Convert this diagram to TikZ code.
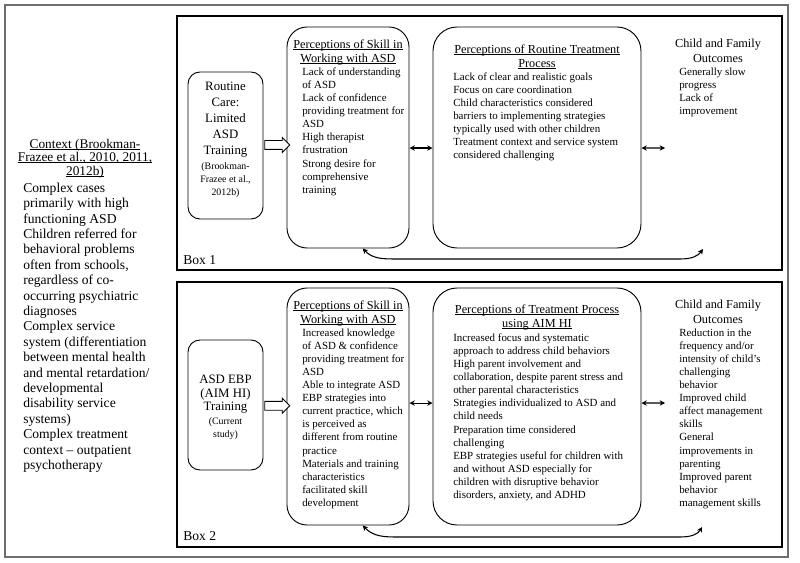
\documentclass[tikz,border=0pt]{standalone}
\usepackage{fontspec}
\setmainfont{Liberation Serif}
\usetikzlibrary{arrows.meta,shapes.arrows,calc}

\newcommand{\tightlines}{\lineskiplimit -20pt\relax}
\newcommand{\ulin}[1]{\setbox0\hbox{#1}\rlap{\rule[-1.1pt]{\wd0}{0.45pt}}\box0}

\tikzset{
  rbox/.style={draw, line width=0.7pt, rounded corners=15pt},
  sbox/.style={draw, line width=0.7pt, rounded corners=9pt},
  headtext/.style={font=\fontsize{9.2}{10.7}\selectfont, align=center, inner sep=0pt, anchor=north},
  bodytext/.style={font=\fontsize{8.2}{9.8}\selectfont, align=left, inner sep=0pt, anchor=north west},
  bigtext/.style={font=\fontsize{9.6}{12}\selectfont, align=center, inner sep=0pt, anchor=north},
  reftext/.style={font=\fontsize{7.4}{9.8}\selectfont, align=center, inner sep=0pt, anchor=north},
  ctxtext/.style={font=\fontsize{10.2}{11.55}\selectfont, align=left, inner sep=0pt},
  biarrow/.style={{Stealth[length=4pt,width=4pt]}-{Stealth[length=4pt,width=4pt]}, line width=0.8pt},
  fatarrow/.style={single arrow, draw, line width=0.7pt, fill=white, minimum height=18.75pt,
    minimum width=10.5pt, inner sep=3pt, single arrow head extend=2.25pt,
    path picture={\fill (path picture bounding box.south west) rectangle ([xshift=3.6pt]path picture bounding box.north west);}}
}

\begin{document}
\begin{tikzpicture}[x=0.75pt,y=0.75pt,yscale=-1,xscale=1]
\useasboundingbox (0,0) rectangle (800,563);

% frames
\draw [color={rgb, 255:red, 110; green, 110; blue, 110 }, line width=0.8pt] (5,5) rectangle (788,557) ;
\draw [line width=0.8pt] (177,16) rectangle (782,270) ;
\draw [line width=2.2pt] (177,282) rectangle (782,547) ;

% Context
\node [ctxtext, anchor=north, align=center, font=\fontsize{10}{10.1}\selectfont\tightlines] (ctxHead) at (85,138.6)
  {\ulin{Context (Brookman-}\\ \ulin{Frazee et al., 2010, 2011,}\\ \ulin{2012b)}};
\node [ctxtext, anchor=north west] (ctxBody) at (23,182.6)
  {Complex cases\\primarily with high\\functioning ASD\\Children referred for\\behavioral problems\\often from schools,\\regardless of co-\\occurring psychiatric\\diagnoses\\Complex service\\system (differentiation\\between mental health\\and mental retardation/\\developmental\\disability service\\systems)\\Complex treatment\\context -- outpatient\\psychotherapy};

% Box 1
\node [sbox, minimum width=56.25pt, minimum height=110.25pt] (careA) at (225.5,145.5) {};
\node [rbox, minimum width=91.5pt, minimum height=165.75pt] (skillA) at (348,137.5) {};
\node [rbox, rounded corners=18pt, minimum width=156pt, minimum height=165.75pt] (procA) at (537,137.5) {};

\node [bigtext] (careAtitle) at (225.5,81.9) {Routine\\Care:\\Limited\\ASD\\Training};
\node [reftext] (careAref) at (225.5,162) {(Brookman-\\Frazee et al.,\\2012b)};

\node [headtext] (skillAhead) at (348,39.1) {\ulin{Perceptions of Skill in}\\ \ulin{Working with ASD}};
\node [bodytext] (skillAbody) at (302,67.6) {Lack of understanding\\of ASD\\Lack of confidence\\providing treatment for\\ASD\\High therapist\\frustration\\Strong desire for\\comprehensive\\training};

\node [headtext] (procAhead) at (537,44.1) {\ulin{Perceptions of Routine Treatment}\\ \ulin{Process}};
\node [bodytext] (procAbody) at (453,72.6) {Lack of clear and realistic goals\\Focus on care coordination\\Child characteristics considered\\barriers to implementing strategies\\typically used with other children\\Treatment context and service system\\considered challenging};

\node [headtext] (outAhead) at (718,39.1) {Child and Family\\Outcomes};
\node [bodytext] (outAbody) at (679,67.6) {Generally slow\\progress\\Lack of\\improvement};

\node [ctxtext, anchor=west] (boxAlabel) at (183,260) {Box 1};

\node [fatarrow] (fatA) at ($(careA.east)!0.5!(skillA.west)+(0,3.5)$) {};
\draw [biarrow] ([yshift=7.9pt]skillA.east) -- ([yshift=7.9pt]procA.west) ;
\coordinate (outAin) at (665,148);
\draw [biarrow] ([yshift=7.9pt]procA.east) -- (outAin) ;
\coordinate (loopAend) at (703,249);
\draw [biarrow] ([xshift=11pt]skillA.south) .. controls (372,258) and (380,259) .. (395,259) -- (680,259) .. controls (692,259) and (698,256) .. (loopAend) ;

% Box 2
\node [sbox, minimum width=56.25pt, minimum height=97.5pt] (careB) at (225.5,405) {};
\node [rbox, minimum width=91.5pt, minimum height=177.75pt] (skillB) at (348,406.5) {};
\node [rbox, rounded corners=18pt, minimum width=156pt, minimum height=177.75pt] (procB) at (537,406.5) {};

\node [bigtext, font=\fontsize{9.6}{10.2}\selectfont] (careBtitle) at (225.5,374.9) {ASD EBP\\(AIM HI)\\Training};
\node [reftext] (careBref) at (225.5,417) {(Current\\study)};

\node [headtext] (skillBhead) at (348,300.1) {\ulin{Perceptions of Skill in}\\ \ulin{Working with ASD}};
\node [bodytext] (skillBbody) at (302,328.6) {Increased knowledge\\of ASD \& confidence\\providing treatment for\\ASD\\Able to integrate ASD\\EBP strategies into\\current practice, which\\is perceived as\\different from routine\\practice\\Materials and training\\characteristics\\facilitated skill\\development};

\node [headtext] (procBhead) at (537,304.1) {\ulin{Perceptions of Treatment Process}\\ \ulin{using AIM HI}};
\node [bodytext] (procBbody) at (453,333.6) {Increased focus and systematic\\approach to address child behaviors\\High parent involvement and\\collaboration, despite parent stress and\\other parental characteristics\\Strategies individualized to ASD and\\child needs\\Preparation time considered\\challenging\\EBP strategies useful for children with\\and without ASD especially for\\children with disruptive behavior\\disorders, anxiety, and ADHD};

\node [headtext] (outBhead) at (718,300.1) {Child and Family\\Outcomes};
\node [bodytext] (outBbody) at (679,328.6) {Reduction in the\\frequency and/or\\intensity of child's\\challenging\\behavior\\Improved child\\affect management\\skills\\General\\improvements in\\parenting\\Improved parent\\behavior\\management skills};

\node [ctxtext, anchor=west] (boxBlabel) at (183,536) {Box 2};

\node [fatarrow] (fatB) at ($(careB.east)!0.5!(skillB.west)$) {};
\draw [biarrow] ([yshift=-2.6pt]skillB.east) -- ([yshift=-2.6pt]procB.west) ;
\coordinate (outBin) at (665,403);
\draw [biarrow] ([yshift=-2.6pt]procB.east) -- (outBin) ;
\coordinate (loopBend) at (702,527);
\draw [biarrow] ([xshift=11pt]skillB.south) .. controls (372,535) and (380,537) .. (395,537) -- (680,537) .. controls (692,537) and (698,534) .. (loopBend) ;

\end{tikzpicture}
\end{document}
